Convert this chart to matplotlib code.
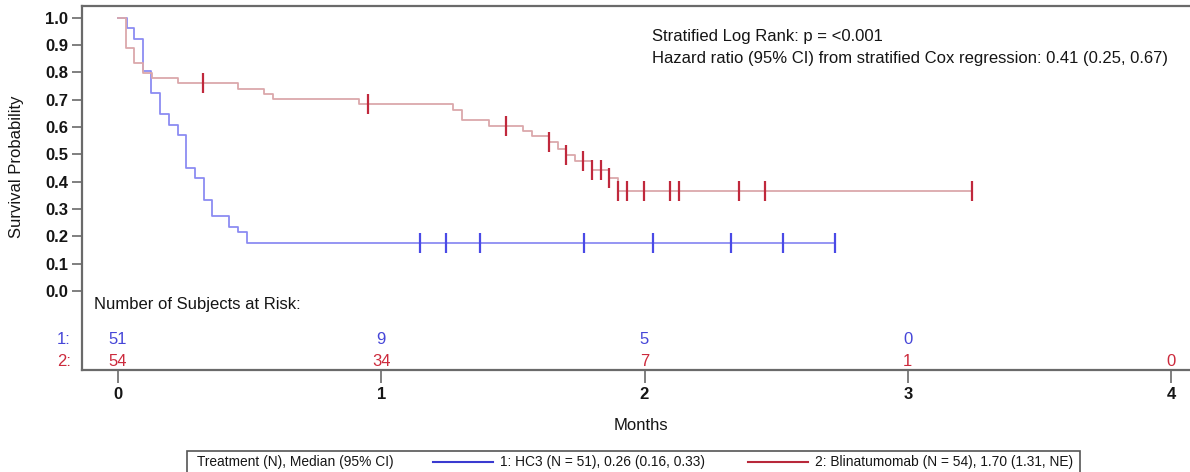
import numpy as np
import matplotlib
matplotlib.use("Agg")
import matplotlib.pyplot as plt
from matplotlib.lines import Line2D
from matplotlib.patches import Rectangle

plt.rcParams['font.family'] = ['Liberation Sans', 'DejaVu Sans']

# ---- data ----
hc3_times = [0.0, 0.033, 0.060, 0.094, 0.127, 0.160, 0.193, 0.227, 0.258, 0.291, 0.326, 0.358, 0.423, 0.455, 0.489]
hc3_surv = [1.0, 0.961, 0.922, 0.804, 0.725, 0.647, 0.608, 0.569, 0.451, 0.412, 0.333, 0.275, 0.235, 0.216, 0.176]
hc3_censor = [1.146, 1.245, 1.376, 1.769, 2.033, 2.330, 2.528, 2.722]

blin_times = [0.0, 0.030, 0.061, 0.094, 0.129, 0.227, 0.455, 0.553, 0.588, 0.914, 1.274, 1.308, 1.409,
              1.537, 1.572, 1.637, 1.670, 1.702, 1.736, 1.802, 1.865, 1.898]
blin_surv = [1.0, 0.889, 0.833, 0.796, 0.778, 0.759, 0.740, 0.721, 0.702, 0.683, 0.663, 0.624, 0.605,
             0.585, 0.565, 0.544, 0.520, 0.499, 0.474, 0.442, 0.414, 0.366]
blin_censor = [0.324, 0.948, 1.474, 1.637, 1.702, 1.768, 1.802, 1.834, 1.865, 1.898, 1.932, 1.998,
               2.097, 2.130, 2.359, 2.457, 3.244]

risk_times = [0, 1, 2, 3, 4]
risk_hc3 = ['51', '9', '5', '0', '']
risk_blin = ['54', '34', '7', '1', '0']

legend_title = 'Treatment (N), Median (95% CI)'
legend_labels = ['1: HC3 (N = 51), 0.26 (0.16, 0.33)', '2: Blinatumomab (N = 54), 1.70 (1.31, NE)']
stat_lines = ['Stratified Log Rank: p = <0.001',
              'Hazard ratio (95% CI) from stratified Cox regression: 0.41 (0.25, 0.67)']

# ---- styles ----
BLUE_LINE = '#8c8cf2'
BLUE_MARK = '#4a4ae6'
RED_LINE = '#dba8ab'
RED_MARK = '#c0283c'
BLUE_TXT = '#4646d8'
RED_TXT = '#cc2a3c'
AX_COL = '#6a6a6a'
TXT = '#151515'

W, H = 1190, 472
fig = plt.figure(figsize=(W / 100, H / 100), dpi=100)

ax_l, ax_r, ax_t, ax_b = 82, 1190, 5.7, 370
ax = fig.add_axes([ax_l / W, 1 - ax_b / H, (ax_r - ax_l) / W, (ax_b - ax_t) / H])

x0_px, px_per_month = 118, 263.25
y1_px, y0_px = 17.5, 291.0
ppy = (y0_px - y1_px)
ax.set_xlim((ax_l - x0_px) / px_per_month, (ax_r - x0_px) / px_per_month)
ax.set_ylim(-(ax_b - y0_px) / ppy, 1 + (y1_px - ax_t) / ppy)


def draw_curve(times, surv, cens, lc, mc):
    t = list(times) + [max(cens)]
    s = list(surv) + [surv[-1]]
    ax.step(t, s, where='post', color=lc, lw=1.3, zorder=3)
    idx = np.searchsorted(np.array(times), np.array(cens), side='right') - 1
    cs = np.array(surv)[idx]
    ax.plot(cens, cs, linestyle='none', marker='|', markersize=14, mew=1.6, color=mc, zorder=4)


draw_curve(hc3_times, hc3_surv, hc3_censor, BLUE_LINE, BLUE_MARK)
draw_curve(blin_times, blin_surv, blin_censor, RED_LINE, RED_MARK)

# axes styling
ax.spines['right'].set_visible(False)
for sp in ['left', 'top', 'bottom']:
    ax.spines[sp].set_color(AX_COL)
    ax.spines[sp].set_linewidth(1.6)
yt = np.round(np.arange(0, 1.01, 0.1), 1)
ax.set_yticks(yt)
ax.set_yticklabels([f'{v:.1f}' for v in yt], fontsize=12, fontweight='bold')
ax.set_xticks(risk_times)
ax.set_xticklabels([str(v) for v in risk_times], fontsize=12, fontweight='bold')
ax.tick_params(axis='y', length=7, width=1.2, color=AX_COL, pad=3, labelcolor=TXT)
ax.tick_params(axis='x', length=9, width=1.2, color=AX_COL, pad=3, labelcolor=TXT)


def fx(px):
    return px / W


def fy(py):
    return 1 - py / H


fig.text(fx(641), fy(425), 'Months', fontsize=12, va='center', ha='center', color=TXT)
fig.text(fx(17), fy(167), 'Survival Probability', fontsize=12, va='center', ha='center',
         rotation=90, color=TXT)

# stat annotations
for i, txt in enumerate(stat_lines):
    fig.text(fx(652), fy(37 + 21 * i), txt, fontsize=12, va='center', ha='left', color=TXT)

# risk table
fig.text(fx(94), fy(304), 'Number of Subjects at Risk:', fontsize=12, va='center', ha='left', color=TXT)
fig.text(fx(71), fy(340), '1:', fontsize=12, va='center', ha='right', color=BLUE_TXT)
fig.text(fx(71), fy(361), '2:', fontsize=12, va='center', ha='right', color=RED_TXT)
for t, a, b in zip(risk_times, risk_hc3, risk_blin):
    xp = x0_px + t * px_per_month
    if a:
        fig.text(fx(xp), fy(340), a, fontsize=12, va='center', ha='center', color=BLUE_TXT)
    if b:
        fig.text(fx(xp), fy(361), b, fontsize=12, va='center', ha='center', color=RED_TXT)

# legend box
fig.patches.append(Rectangle((fx(187), fy(474)), (1080 - 187) / W, (474 - 451) / H,
                             transform=fig.transFigure, fill=False, edgecolor='#555555', lw=1.2))
fig.text(fx(197), fy(462), legend_title, fontsize=9.9, va='center', ha='left', color=TXT)
fig.lines.append(Line2D([fx(433), fx(493)], [fy(462), fy(462)], transform=fig.transFigure,
                        color='#3a3ad0', lw=1.5))
fig.text(fx(500), fy(462), legend_labels[0], fontsize=9.9, va='center', ha='left', color=TXT)
fig.lines.append(Line2D([fx(748), fx(808)], [fy(462), fy(462)], transform=fig.transFigure,
                        color='#b8283a', lw=1.5))
fig.text(fx(815), fy(462), legend_labels[1], fontsize=9.9, va='center', ha='left', color=TXT)

fig.savefig('out.png', dpi=100)
